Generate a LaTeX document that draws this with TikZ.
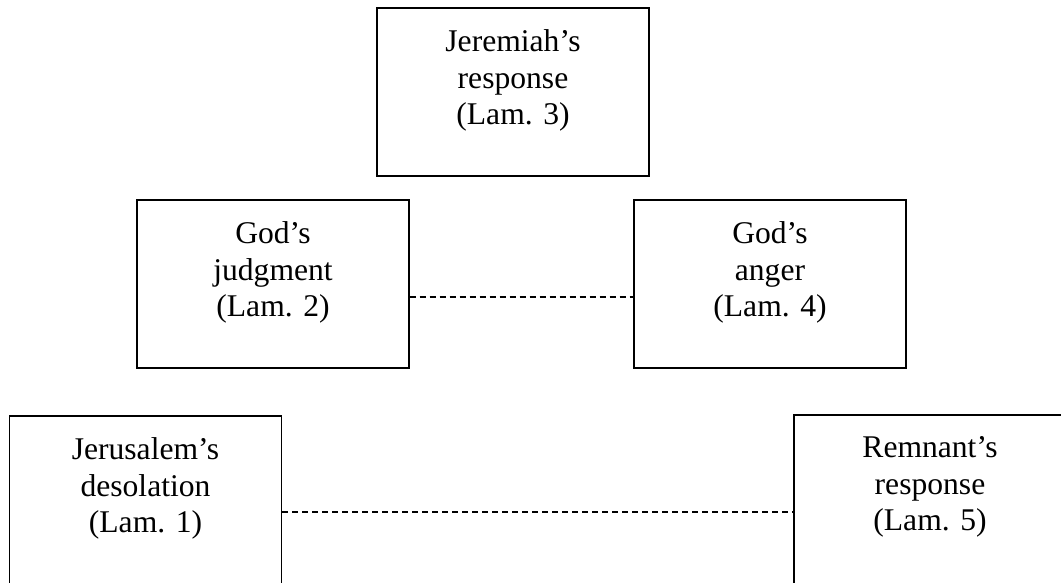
\documentclass[tikz,border=0pt]{standalone}
\usepackage{fontspec}
\setmainfont{Liberation Serif}
\usepackage{tikz}
\usetikzlibrary{
  arrows.meta,
  positioning,
  calc
}
\tikzset{
  chapbox/.style={draw,line width=1.4pt,minimum width=272pt,minimum height=168pt,inner sep=0pt},
  chaptext/.style={anchor=north,align=center,inner sep=0pt,font=\fontsize{31.6}{36.6}\selectfont},
  link/.style={line width=1.1pt,dash pattern=on 6pt off 4pt}
}

\begin{document}
\begin{tikzpicture}[x=1pt,y=-1pt]
\useasboundingbox (0,0) rectangle (1061,582);

\node[chapbox] (jeremiah) at (513,92) {};
\node[chapbox] (judgment) at (273,284) {};
\node[chapbox] (anger) at (770,284) {};
% bottom row runs past the page edge
\node[chapbox,minimum height=176pt] (jerusalem) at (145.5,504) {};
\node[chapbox,minimum height=176pt,minimum width=281pt] (remnant) at (934.5,503) {};

\node[chaptext] (jeremiah-t) at ([yshift=-22pt]jeremiah.north) {Jeremiah’s\\response\\(Lam. 3)};
\node[chaptext] (judgment-t) at ([yshift=-22pt]judgment.north) {God’s\\judgment\\(Lam. 2)};
\node[chaptext] (anger-t) at ([yshift=-22pt]anger.north) {God’s\\anger\\(Lam. 4)};
\node[chaptext] (jerusalem-t) at ([yshift=-22pt]jerusalem.north) {Jerusalem’s\\desolation\\(Lam. 1)};
\node[chaptext] (remnant-t) at ([yshift=-22pt,xshift=-4.5pt]remnant.north) {Remnant’s\\response\\(Lam. 5)};

\draw[link] ([yshift=-13pt]judgment.east) -- ([yshift=-13pt]anger.west);
\draw[link] ([yshift=-8pt]jerusalem.east) -- ([yshift=-9pt]remnant.west);

\end{tikzpicture}
\end{document}
